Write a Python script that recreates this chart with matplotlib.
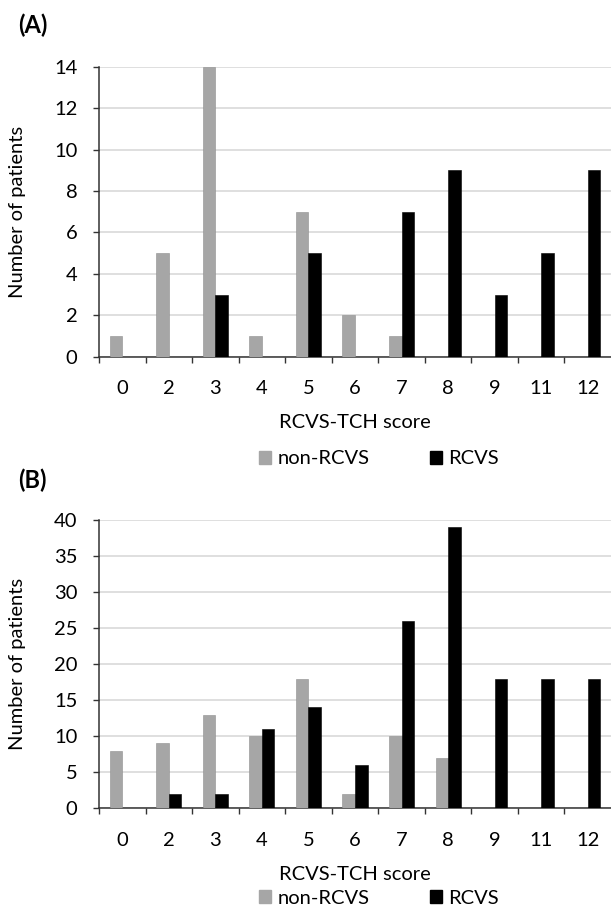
import matplotlib
matplotlib.use("Agg")
import matplotlib.pyplot as plt
from matplotlib.patches import Patch
import numpy as np

plt.rcParams['font.family'] = ['Lato', 'DejaVu Sans']

# scores on the x axis (categories)
scores = ['0', '2', '3', '4', '5', '6', '7', '8', '9', '11', '12']

# panel (A)
a_non_rcvs = [1, 5, 14, 1, 7, 2, 1, 0, 0, 0, 0]
a_rcvs = [0, 0, 3, 0, 5, 0, 7, 9, 3, 5, 9]
a_yticks = [0, 2, 4, 6, 8, 10, 12, 14]

# panel (B)
b_non_rcvs = [8, 9, 13, 10, 18, 2, 10, 7, 0, 0, 0]
b_rcvs = [0, 2, 2, 11, 14, 6, 26, 39, 18, 18, 18]
b_yticks = [0, 5, 10, 15, 20, 25, 30, 35, 40]

GREY = '#a6a6a6'
BLACK = '#000000'
W = 0.27
FS = 14.5


def panel(ax, non_rcvs, rcvs, yticks):
    x = np.arange(len(scores))
    ax.bar(x - W / 2, non_rcvs, W, color=GREY, edgecolor='#8f8f8f', linewidth=0.4, zorder=3)
    ax.bar(x + W / 2, rcvs, W, color=BLACK, edgecolor=BLACK, linewidth=0.4, zorder=3)
    ax.set_xlim(-0.5, len(scores) - 0.5)
    ax.set_ylim(0, yticks[-1])
    ax.set_yticks(yticks)
    ax.yaxis.grid(True, color='#d9d9d9', linewidth=1.2, zorder=0)
    ax.set_axisbelow(True)
    # category labels in the middle, tick marks between categories
    ax.set_xticks(x)
    ax.set_xticklabels(scores)
    ax.set_xticks(np.arange(len(scores)) - 0.5, minor=True)
    ax.tick_params(axis='x', which='major', length=0, pad=17, labelsize=FS)
    ax.tick_params(axis='x', which='minor', length=4.5, width=1, color='#333333', direction='out')
    ax.tick_params(axis='y', length=4.5, width=1, color='#333333', pad=11, labelsize=FS)
    for s in ['top', 'right']:
        ax.spines[s].set_visible(False)
    for s in ['left', 'bottom']:
        ax.spines[s].set_color('#333333')
        ax.spines[s].set_linewidth(1.1)
    ax.set_xlabel('RCVS-TCH score', fontsize=FS, labelpad=12)
    ax.set_ylabel('Number of patients', fontsize=FS)
    ax.yaxis.set_label_coords(-0.143, 0.5)


fig = plt.figure(figsize=(6.11, 9.08), dpi=100)
ax_a = fig.add_axes([0.162, 0.6072, 0.838, 0.3194])
ax_b = fig.add_axes([0.162, 0.1098, 0.838, 0.3175])

panel(ax_a, a_non_rcvs, a_rcvs, a_yticks)
panel(ax_b, b_non_rcvs, b_rcvs, b_yticks)

fig.text(0.053, 0.9725, '(A)', fontsize=17, fontweight='bold', ha='center', va='center')
fig.text(0.053, 0.4714, '(B)', fontsize=17, fontweight='bold', ha='center', va='center')

handles = [Patch(color=GREY, label='non-RCVS'), Patch(color=BLACK, label='RCVS')]
for y in [0.4945, 0.011]:
    fig.legend(handles=handles, loc='center', bbox_to_anchor=(0.62, y), ncol=2,
               frameon=False, fontsize=FS, handlelength=0.6, handleheight=0.6,
               handletextpad=0.3, columnspacing=3.0, borderaxespad=0, borderpad=0)

fig.savefig('out.png', dpi=100)
